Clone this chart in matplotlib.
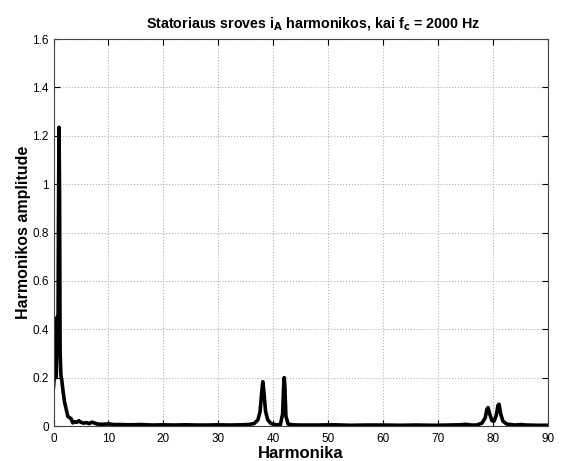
import matplotlib
matplotlib.use("Agg")
from matplotlib import pyplot as plt

plt.rcParams['font.family'] = ['Liberation Sans', 'DejaVu Sans']

# harmonic order and amplitude
harm = [0, 0.2, 0.35, 0.5, 0.65, 0.8, 0.9, 1.0, 1.1, 1.2, 1.35, 1.5, 1.7, 2.0,
        2.3, 2.6, 2.9, 3.2, 3.5, 3.8, 4.2, 4.6, 5.0, 5.5, 6.0, 6.5, 7.0, 7.5,
        8.0, 9.0, 10, 11, 12, 14, 16, 18, 20, 22, 24, 26, 28, 30, 32, 34,
        35.5, 36.5, 37.2, 37.6, 37.9, 38.1, 38.3, 38.6, 39.0, 39.6, 40.5,
        41.3, 41.7, 41.9, 42.0, 42.1, 42.3, 42.7, 43.5, 45, 48, 51, 54, 57,
        60, 63, 66, 69, 72, 74, 75, 76, 77, 78, 78.6, 78.9, 79.1, 79.4, 79.8,
        80.2, 80.6, 80.9, 81.1, 81.4, 81.8, 82.5, 84, 85, 86, 88, 90]
amp = [0.16, 0.22, 0.27, 0.20, 0.45, 0.30, 0.85, 1.235, 0.95, 0.30, 0.21, 0.19,
       0.15, 0.10, 0.07, 0.04, 0.035, 0.03, 0.013, 0.018, 0.015, 0.022, 0.015,
       0.012, 0.014, 0.010, 0.016, 0.012, 0.008, 0.007, 0.009, 0.006, 0.006,
       0.005, 0.006, 0.004, 0.005, 0.004, 0.005, 0.004, 0.004, 0.005, 0.004,
       0.005, 0.006, 0.010, 0.025, 0.06, 0.14, 0.183, 0.14, 0.06, 0.025, 0.010,
       0.005, 0.006, 0.05, 0.17, 0.20, 0.17, 0.04, 0.008, 0.005, 0.004, 0.004,
       0.005, 0.003, 0.004, 0.004, 0.003, 0.004, 0.003, 0.004, 0.005, 0.007,
       0.004, 0.004, 0.012, 0.035, 0.07, 0.076, 0.05, 0.022, 0.02, 0.045,
       0.085, 0.09, 0.05, 0.02, 0.008, 0.004, 0.006, 0.004, 0.003, 0.003]

fig = plt.figure(figsize=(5.67, 4.61), dpi=100)
ax = fig.add_axes([0.0944, 0.0759, 0.872, 0.8395])

ax.plot(harm, amp, color="black", linewidth=2.6, solid_joinstyle="round")

ax.set_xlim(0, 90)
ax.set_ylim(0, 1.6)
ax.set_xticks(range(0, 91, 10))
ax.set_yticks([0, 0.2, 0.4, 0.6, 0.8, 1, 1.2, 1.4, 1.6])
ax.set_yticklabels(["0", "0.2", "0.4", "0.6", "0.8", "1", "1.2", "1.4", "1.6"])
ax.tick_params(direction="in", top=True, right=True, labelsize=8.5, length=4)
ax.tick_params(axis="x", pad=5)
ax.grid(True, linestyle=":", color="#b0b0b0", linewidth=0.8)
for s in ax.spines.values():
    s.set_color("#444444")
    s.set_linewidth(0.8)

ax.set_title("Statoriaus sroves i$_\\mathbf{A}$ harmonikos, kai f$_\\mathbf{c}$ = 2000 Hz",
             fontsize=10.3, fontweight="bold", pad=8, x=0.525)
ax.set_xlabel("Harmonika", fontsize=12, fontweight="bold", labelpad=1)
ax.set_ylabel("Harmonikos amplitude", fontsize=11.5, fontweight="bold", labelpad=1)

plt.savefig("out.png", dpi=100)
